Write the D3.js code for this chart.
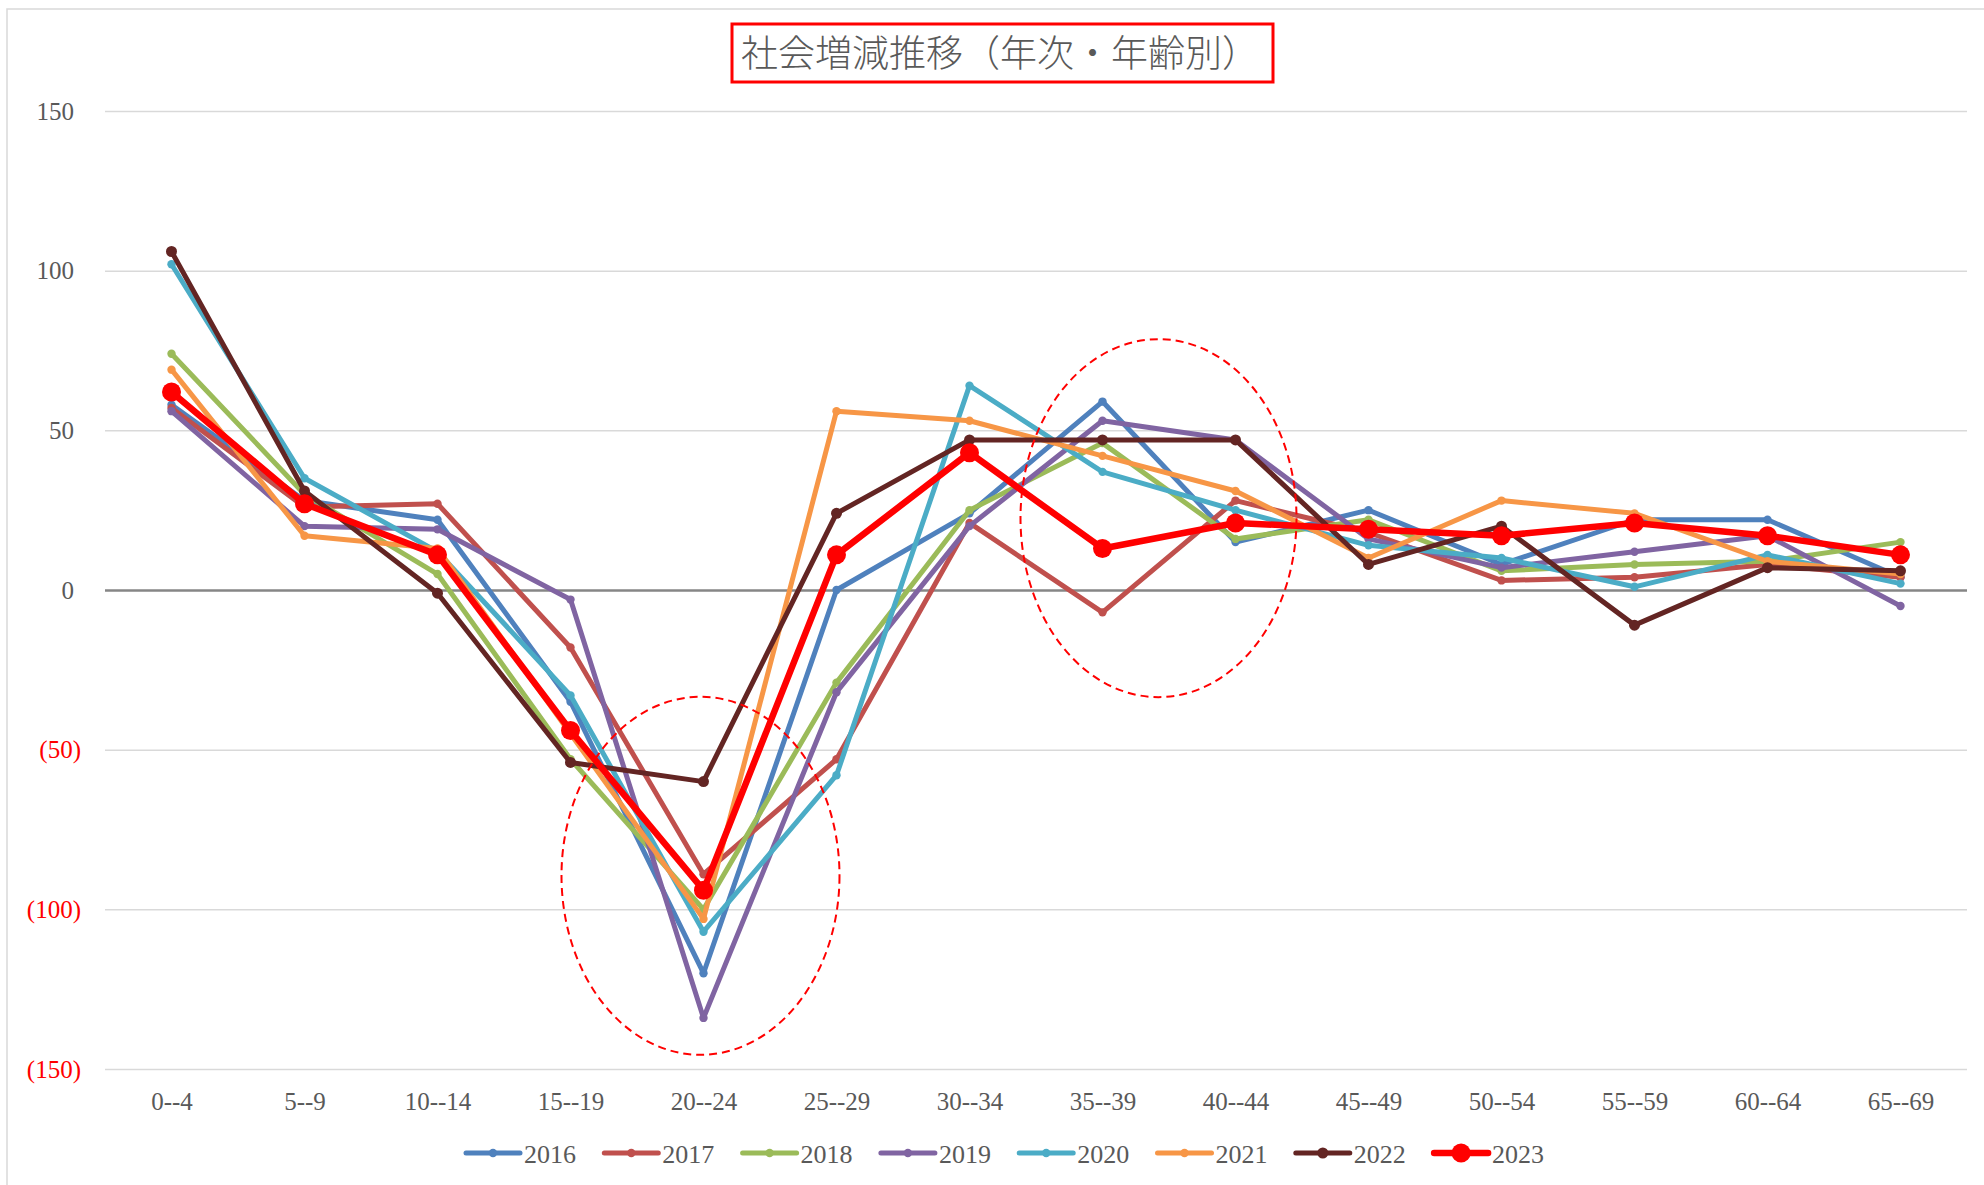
<!DOCTYPE html>
<html>
<head>
<meta charset="utf-8">
<script src="https://cdn.jsdelivr.net/npm/d3@7"></script>
<style>
  body { margin: 0; background: #fff; }
  svg { display: block; }
</style>
</head>
<body>
<div id="chart"></div>
<script>
// age groups and yearly net migration
const ageGroups = ["0--4", "5--9", "10--14", "15--19", "20--24", "25--29", "30--34",
                   "35--39", "40--44", "45--49", "50--54", "55--59", "60--64", "65--69"];
const years = ["2016", "2017", "2018", "2019", "2020", "2021", "2022", "2023"];

const v2016 = [58, 28, 22, -35, -120, 0, 24, 59, 15, 25, 8, 22, 22, 4];
const v2017 = [57, 26, 27, -18, -89, -53, 21, -7, 28, 18, 3, 4, 8, 4];
const v2018 = [74, 30, 5, -53, -100, -29, 25, 46, 16, 22, 6, 8, 9, 15];
const v2019 = [56, 20, 19, -3, -134, -32, 20, 53, 47, 16, 7, 12, 17, -5];
const v2020 = [102, 35, 12, -33, -107, -58, 64, 37, 25, 14, 10, 1, 11, 2];
const v2021 = [69, 17, 13, -45, -103, 56, 53, 42, 31, 10, 28, 24, 9, 5];
const v2022 = [106, 31, -1, -54, -60, 24, 47, 47, 47, 8, 20, -11, 7, 6];
const v2023 = [62, 27, 11, -44, -94, 11, 43, 13, 21, 19, 17, 21, 17, 11];

const yTicks = [150, 100, 50, 0, -50, -100, -150];
const yTickLabels = ["150", "100", "50", "0", "(50)", "(100)", "(150)"];

const titleText = "社会増減推移（年次・年齢別）";

const colors = ["#4F81BD", "#C0504D", "#9BBB59", "#8064A2", "#4BACC6", "#F79646", "#632523", "#FF0000"];

const seriesValues = [v2016, v2017, v2018, v2019, v2020, v2021, v2022, v2023];
const series = years.map((y, i) => ({
  name: y,
  color: colors[i],
  values: seriesValues[i],
  width: y === "2023" ? 6.5 : 5,
  r: y === "2023" ? 9.5 : (y === "2022" ? 5.5 : 4.2)
}));

// dashed ellipses highlighting two areas (center category, center value, radii in px)
const highlights = [
  { cat: "20--24", dx: -3, value: -89.5, rx: 139, ry: 179 },
  { cat: "35--39", dx: 56, value: 22.5, rx: 138, ry: 179 }
];

const width = 1984;
const height = 1185;
const font = "'Liberation Serif', 'DejaVu Serif', serif";

const svg = d3.select("#chart")
  .append("svg")
  .attr("width", width)
  .attr("height", height);

// outer chart frame
svg.append("rect")
  .attr("x", 7).attr("y", 9)
  .attr("width", 2000).attr("height", 1200)
  .attr("fill", "#fff")
  .attr("stroke", "#d9d9d9")
  .attr("stroke-width", 1.5);

const x = d3.scalePoint()
  .domain(ageGroups)
  .range([105, 1967])
  .padding(0.5);

const y = d3.scaleLinear()
  .domain([-150, 150])
  .range([1069, 111]);

// y grid + labels
const yAxis = svg.append("g")
  .attr("transform", "translate(105,0)")
  .call(d3.axisLeft(y)
    .tickValues(yTicks)
    .tickSize(-(1967 - 105))
    .tickFormat((d, i) => yTickLabels[i]));

yAxis.select(".domain").remove();
yAxis.selectAll(".tick line")
  .attr("stroke", d => d === 0 ? "#868686" : "#d9d9d9")
  .attr("stroke-width", d => d === 0 ? 2.5 : 1.5);
yAxis.selectAll(".tick text")
  .attr("x", d => d < 0 ? -24 : -31)
  .attr("fill", d => d < 0 ? "#FF0000" : "#595959")
  .style("font-family", font)
  .style("font-size", "25px");

// x labels
const xAxis = svg.append("g")
  .attr("transform", "translate(0,1069)")
  .call(d3.axisBottom(x).tickSize(0).tickPadding(23));

xAxis.select(".domain").remove();
xAxis.selectAll(".tick text")
  .attr("fill", "#595959")
  .style("font-family", font)
  .style("font-size", "25px");

// lines
const line = d3.line()
  .x((d, i) => x(ageGroups[i]))
  .y(d => y(d));

const g = svg.append("g");

series.forEach(s => {
  g.append("path")
    .datum(s.values)
    .attr("fill", "none")
    .attr("stroke", s.color)
    .attr("stroke-width", s.width)
    .attr("stroke-linejoin", "round")
    .attr("d", line);

  g.selectAll(null)
    .data(s.values)
    .enter()
    .append("circle")
    .attr("cx", (d, i) => x(ageGroups[i]))
    .attr("cy", d => y(d))
    .attr("r", s.r)
    .attr("fill", s.color);
});

// highlight ellipses
svg.append("g")
  .selectAll("ellipse")
  .data(highlights)
  .enter()
  .append("ellipse")
  .attr("cx", d => x(d.cat) + d.dx)
  .attr("cy", d => y(d.value))
  .attr("rx", d => d.rx)
  .attr("ry", d => d.ry)
  .attr("fill", "none")
  .attr("stroke", "#FF0000")
  .attr("stroke-width", 2)
  .attr("stroke-dasharray", "8,5");

// title with red box
svg.append("rect")
  .attr("x", 732).attr("y", 24)
  .attr("width", 541).attr("height", 58)
  .attr("fill", "#fff")
  .attr("stroke", "#FF0000")
  .attr("stroke-width", 3);

svg.append("text")
  .attr("x", 741)
  .attr("y", 67)
  .attr("fill", "#595959")
  .style("font-family", "'Noto Sans CJK JP', sans-serif")
  .style("font-weight", 300)
  .style("font-size", "37px")
  .text(titleText);

// legend
const legend = svg.append("g")
  .selectAll("g")
  .data(series)
  .enter()
  .append("g")
  .attr("transform", (d, i) => `translate(${466 + i * 138.3},1153)`);

legend.append("line")
  .attr("x1", 0).attr("x2", 54)
  .attr("stroke", d => d.color)
  .attr("stroke-width", d => d.width)
  .attr("stroke-linecap", "round");

legend.append("circle")
  .attr("cx", 27)
  .attr("r", d => d.r)
  .attr("fill", d => d.color);

legend.append("text")
  .attr("x", 58)
  .attr("y", 9.5)
  .attr("fill", "#595959")
  .style("font-family", font)
  .style("font-size", "26px")
  .text(d => d.name);
</script>
</body>
</html>
